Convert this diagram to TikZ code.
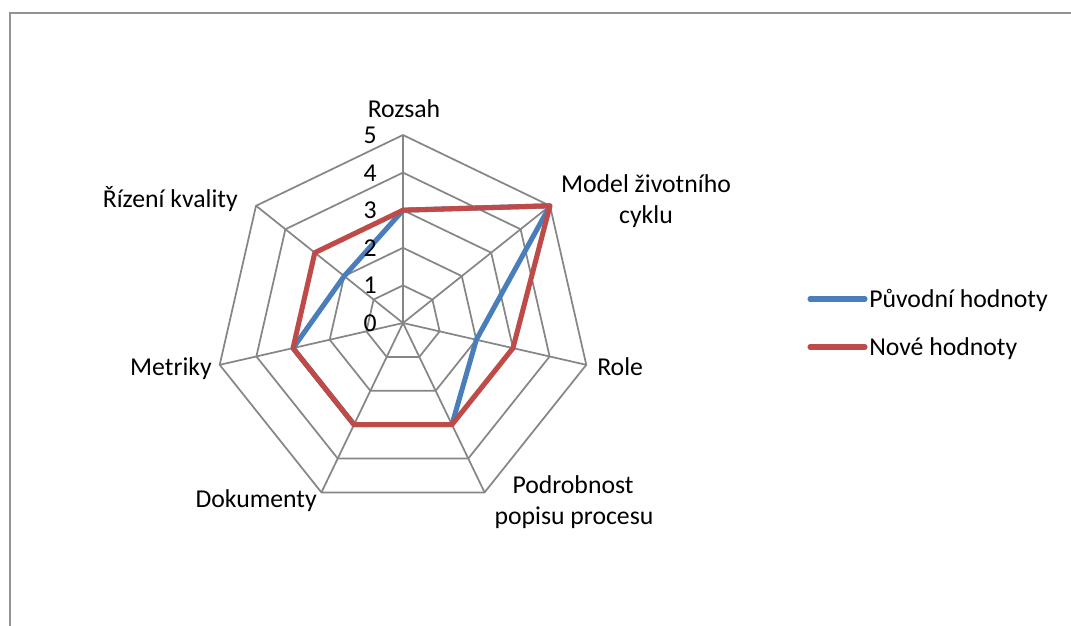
\documentclass[tikz,border=0pt]{standalone}
\usepackage{fontspec}
\setmainfont{Carlito}
\usepackage{tikz}

\definecolor{gridgray}{RGB}{134,134,134}
\definecolor{puvodniblue}{RGB}{74,126,187}
\definecolor{novered}{RGB}{190,75,72}

\begin{document}
\begin{tikzpicture}[x=0.75pt,y=0.75pt,yscale=-1,xscale=1,
  every node/.style={inner sep=0pt,font=\fontsize{19.3}{23.3}\selectfont},
  gridline/.style={draw=gridgray,line width=1.3pt},
  dataline/.style={line width=3.8pt,line join=round,line cap=round}]
\useasboundingbox (0,0) rectangle (1071,625);

%Chart border
\begin{scope}
\clip (0,0) rectangle (1071,625);
\draw [draw=gray!85,line width=1.5pt] (10,640) -- (10,13) -- (1080,13) ;
\end{scope}

%Shape: Polygon (level 1)
\draw [gridline] (403,285.4) -- (432.40,299.56) -- (439.66,331.37) -- (419.31,356.88) -- (386.69,356.88) -- (366.34,331.37) -- (373.60,299.56) -- cycle ;
%Shape: Polygon (level 2)
\draw [gridline] (403,247.8) -- (461.79,276.11) -- (476.31,339.73) -- (435.63,390.75) -- (370.37,390.75) -- (329.69,339.73) -- (344.21,276.11) -- cycle ;
%Shape: Polygon (level 3)
\draw [gridline] (403,210.2) -- (491.19,252.67) -- (512.97,348.10) -- (451.94,424.63) -- (354.06,424.63) -- (293.03,348.10) -- (314.81,252.67) -- cycle ;
%Shape: Polygon (level 4)
\draw [gridline] (403,172.6) -- (520.59,229.23) -- (549.63,356.47) -- (468.26,458.51) -- (337.74,458.51) -- (256.37,356.47) -- (285.41,229.23) -- cycle ;
%Shape: Polygon (level 5)
\draw [gridline] (403,135) -- (549.98,205.78) -- (586.29,364.83) -- (484.57,492.38) -- (321.43,492.38) -- (219.71,364.83) -- (256.02,205.78) -- cycle ;

%Straight Lines (axes)
\coordinate (ctr) at (403,323) ;
\draw [gridline] (ctr) -- (403,135) ;
\draw [gridline] (ctr) -- (549.98,205.78) ;
\draw [gridline] (ctr) -- (586.29,364.83) ;
\draw [gridline] (ctr) -- (484.57,492.38) ;
\draw [gridline] (ctr) -- (321.43,492.38) ;
\draw [gridline] (ctr) -- (219.71,364.83) ;
\draw [gridline] (ctr) -- (256.02,205.78) ;

%Puvodni hodnoty
\draw [dataline,draw=puvodniblue] (403,210.2) -- (549.98,205.78) -- (476.31,339.73) -- (451.94,424.63) -- (354.06,424.63) -- (293.03,348.10) -- (344.21,276.11) -- cycle ;
%Nove hodnoty
\draw [dataline,draw=novered] (403,210.2) -- (549.98,205.78) -- (512.97,348.10) -- (451.94,424.63) -- (354.06,424.63) -- (293.03,348.10) -- (314.81,252.67) -- cycle ;

% Text Node
\node (n0) at (377,331.5) [anchor=base east] {0};
% Text Node
\node (n1) at (377,293.9) [anchor=base east] {1};
% Text Node
\node (n2) at (377,256.3) [anchor=base east] {2};
% Text Node
\node (n3) at (377,218.7) [anchor=base east] {3};
% Text Node
\node (n4) at (377,181.1) [anchor=base east] {4};
% Text Node
\node (n5) at (377,143.5) [anchor=base east] {5};

% Text Node
\node (rozsah) at (404,117) [anchor=base] {Rozsah};
% Text Node
\node (model) at (646,192) [anchor=base] {Model životního};
% Text Node
\node (cyklu) at (646,223) [anchor=base] {cyklu};
% Text Node
\node (role) at (597,375) [anchor=base west] {Role};
% Text Node
\node (podrobnost) at (573,493) [anchor=base] {Podrobnost};
% Text Node
\node (popisu) at (574,524) [anchor=base] {popisu procesu};
% Text Node
\node (dokumenty) at (317,507) [anchor=base east] {Dokumenty};
% Text Node
\node (metriky) at (212,375) [anchor=base east] {Metriky};
% Text Node
\node (rizeni) at (238,207) [anchor=base east] {Řízení kvality};

%Legend
\coordinate (lgb1) at (810,299) ;
\coordinate (lgb2) at (865,299) ;
\coordinate (lgr1) at (810,347) ;
\coordinate (lgr2) at (865,347) ;
\draw [dataline,draw=puvodniblue] (lgb1) -- (lgb2) ;
\draw [dataline,draw=novered] (lgr1) -- (lgr2) ;
% Text Node
\node (lgbtext) at (869,307) [anchor=base west] {Původní hodnoty};
% Text Node
\node (lgrtext) at (869,355) [anchor=base west] {Nové hodnoty};

\end{tikzpicture}
\end{document}
